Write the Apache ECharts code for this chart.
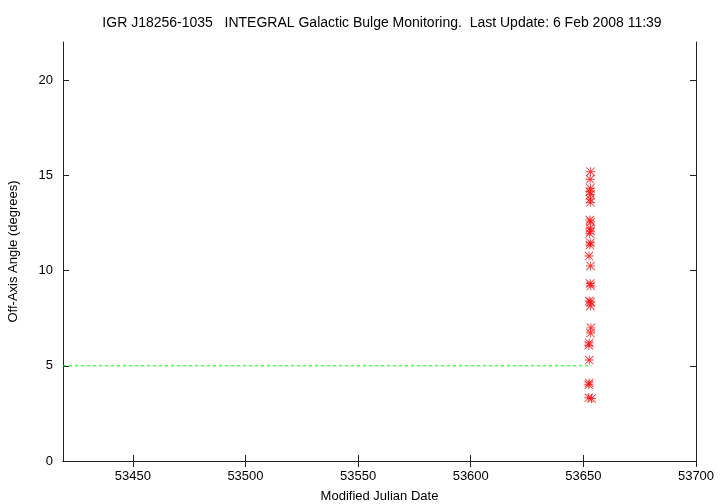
<!DOCTYPE html>
<html>
<head>
<meta charset="utf-8">
<script src="https://cdn.jsdelivr.net/npm/echarts@6/dist/echarts.min.js"></script>
<style>html,body{margin:0;padding:0;background:#fff}#c{width:720px;height:504px}</style>
</head>
<body>
<div id="c"></div>
<script>
const titleText = 'IGR J18256-1035   INTEGRAL Galactic Bulge Monitoring.  Last Update: 6 Feb 2008 11:39';
const xName = 'Modified Julian Date';
const yName = 'Off-Axis Angle (degrees)';
const xTicks = [53450, 53500, 53550, 53600, 53650, 53700];
const yTicks = [0, 5, 10, 15, 20];
const xRange = [53419, 53700];
const yRange = [0, 22];
const mjd = [53653.2, 53653.0, 53653.1, 53652.9, 53653.2, 53653.0, 53653.1, 53652.9, 53653.3, 53653.0,
             53653.2, 53652.8, 53653.1, 53652.9, 53652.5, 53653.2, 53653.0, 53653.3, 53652.6, 53653.3,
             53653.1, 53653.4, 53653.2, 53652.6, 53652.4, 53652.6, 53652.6, 53652.4, 53652.4, 53653.6];
const angle = [15.19, 14.79, 14.32, 14.14, 14.00, 13.75, 13.58, 12.65, 12.55, 12.22,
               12.07, 11.95, 11.46, 11.34, 10.76, 10.24, 9.32, 9.20, 8.40, 8.35,
               8.14, 6.99, 6.72, 6.20, 6.08, 5.30, 4.10, 4.00, 3.32, 3.28];
const limitX = [53419, 53653.7];
const limitY = [5, 5];

const star = 'path://M0 4.5H10V5.5H0Z M4.5 0H5.5V10H4.5Z M0.7 0L10 9.3L9.3 10L0 0.7Z M9.3 0L10 0.7L0.7 10L0 9.3Z';
const font = 'Liberation Sans, Arial, Helvetica, sans-serif';

const chart = echarts.init(document.getElementById('c'), null, {renderer: 'canvas'});
const axisLineStyle = {color: '#222', width: 1};
chart.setOption({
  backgroundColor: '#fff',
  animation: false,
  title: {
    text: titleText, left: 377, top: 11, textAlign: 'center',
    textStyle: {fontFamily: font, fontSize: 14, fontWeight: 'normal', color: '#000'}
  },
  grid: {left: 63, right: 24, top: 42, bottom: 43, outerBoundsMode: 'none', containLabel: false},
  xAxis: [{
    type: 'value', min: xRange[0], max: xRange[1], position: 'bottom',
    name: xName, nameLocation: 'middle', nameGap: 29,
    nameTextStyle: {fontFamily: font, fontSize: 13, color: '#000'},
    axisLine: {show: true, lineStyle: axisLineStyle},
    axisTick: {show: true, inside: true, length: 6, customValues: xTicks, lineStyle: {color: '#222'}},
    axisLabel: {customValues: xTicks, margin: 9, fontFamily: font, fontSize: 13, color: '#000',
                formatter: v => String(v)},
    splitLine: {show: false}
  }, {
    type: 'value', min: xRange[0], max: xRange[1], position: 'top',
    axisLine: {show: true, lineStyle: axisLineStyle},
    axisTick: {show: true, inside: true, length: 6, customValues: xTicks, lineStyle: {color: '#222'}},
    axisLabel: {show: false},
    splitLine: {show: false}
  }],
  yAxis: [{
    type: 'value', min: yRange[0], max: yRange[1], position: 'left',
    name: yName, nameLocation: 'middle', nameGap: 43, nameRotate: 90,
    nameTextStyle: {fontFamily: font, fontSize: 13, color: '#000'},
    axisLine: {show: true, lineStyle: axisLineStyle},
    axisTick: {show: true, inside: true, length: 6, customValues: yTicks, lineStyle: {color: '#222'}},
    axisLabel: {customValues: yTicks, margin: 10, fontFamily: font, fontSize: 13, color: '#000'},
    splitLine: {show: false}
  }, {
    type: 'value', min: yRange[0], max: yRange[1], position: 'right',
    axisLine: {show: true, lineStyle: axisLineStyle},
    axisTick: {show: true, inside: true, length: 6, customValues: yTicks, lineStyle: {color: '#222'}},
    axisLabel: {show: false},
    splitLine: {show: false}
  }],
  series: [{
    type: 'line',
    data: limitX.map((x, i) => [x, limitY[i]]),
    showSymbol: false, symbol: 'none',
    itemStyle: {color: '#00ff00'},
    lineStyle: {color: '#00ff00', width: 1, type: [3, 3]},
    z: 1
  }, {
    type: 'scatter',
    data: mjd.map((x, i) => [x, angle[i]]),
    symbol: star, symbolSize: 9,
    itemStyle: {color: '#ff0000'},
    z: 2
  }]
});
</script>
</body>
</html>
